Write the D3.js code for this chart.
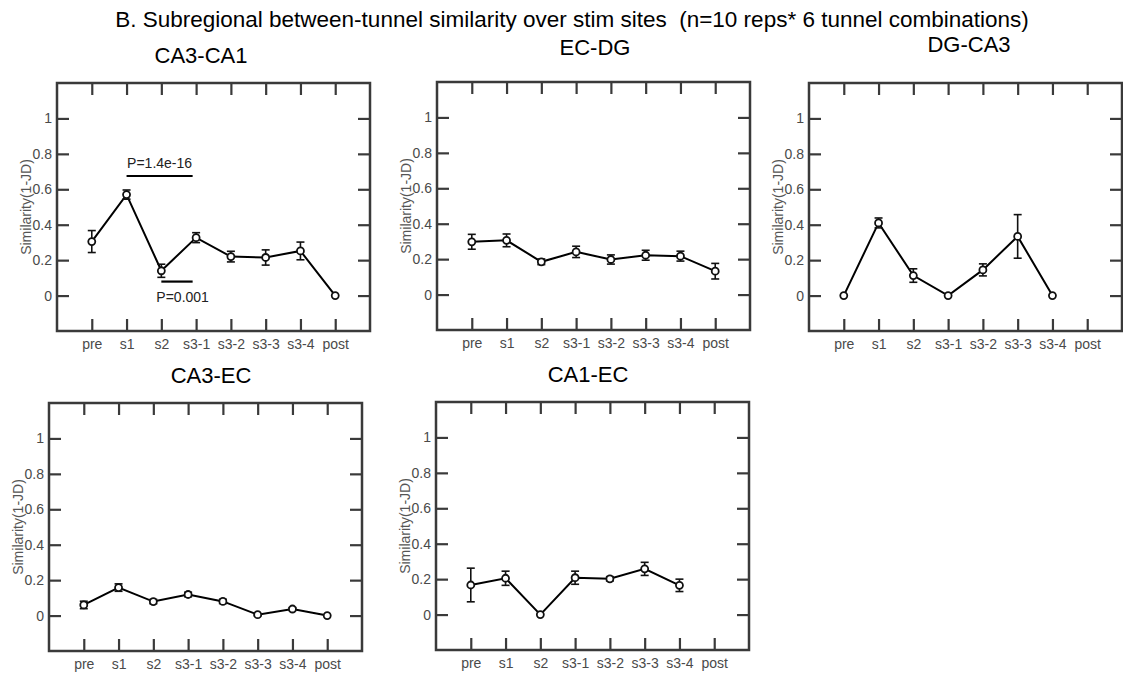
<!DOCTYPE html>
<html>
<head>
<meta charset="utf-8">
<script src="https://cdn.jsdelivr.net/npm/d3@7"></script>
<style>
  body { margin: 0; background: #fff; }
  text { font-family: "Liberation Sans", Arial, sans-serif; }
  .tick text { fill: #4a4a4a; font-size: 14px; }
  .tick line { stroke: #3a3a3a; stroke-width: 2.2px; }
</style>
</head>
<body>
<svg id="chart"></svg>
<script>
var categories = ["pre", "s1", "s2", "s3-1", "s3-2", "s3-3", "s3-4", "post"];
var yTicks = [0, 0.2, 0.4, 0.6, 0.8, 1];
var panelNames = ["CA3-CA1", "EC-DG", "DG-CA3", "CA3-EC", "CA1-EC"];

// mean and error bar half-length for each stim site (null = no data)
var ca3ca1Mean = [0.305, 0.57, 0.14, 0.327, 0.22, 0.215, 0.252, 0];
var ca3ca1Err  = [0.062, 0.026, 0.037, 0.028, 0.03, 0.043, 0.05, 0];
var ecdgMean   = [0.298, 0.306, 0.185, 0.241, 0.198, 0.222, 0.217, 0.132];
var ecdgErr    = [0.042, 0.036, 0.016, 0.032, 0.026, 0.028, 0.028, 0.044];
var dgca3Mean  = [0, 0.41, 0.113, 0, 0.145, 0.334, 0, null];
var dgca3Err   = [0, 0.028, 0.038, 0, 0.034, 0.123, 0, null];
var ca3ecMean  = [0.06, 0.158, 0.079, 0.119, 0.08, 0.005, 0.037, 0];
var ca3ecErr   = [0.021, 0.021, 0.012, 0.013, 0.012, 0.005, 0.008, 0];
var ca1ecMean  = [0.167, 0.205, 0, 0.208, 0.202, 0.258, 0.165, null];
var ca1ecErr   = [0.095, 0.04, 0, 0.037, 0.012, 0.037, 0.035, null];

// significance bars on the CA3-CA1 panel
var sigFrom  = [1, 2];
var sigTo    = [2.9, 2.9];
var sigY     = [0.675, 0.079];
var sigLabel = ["P=1.4e-16", "P=0.001"];

var means = [ca3ca1Mean, ecdgMean, dgca3Mean, ca3ecMean, ca1ecMean];
var errs  = [ca3ca1Err, ecdgErr, dgca3Err, ca3ecErr, ca1ecErr];

// panel placement (box left/top, title centre/baseline)
var layout = [
  {left: 57,  top: 83,  tx: 201, ty: 63},
  {left: 437, top: 82,  tx: 595, ty: 55},
  {left: 809, top: 83,  tx: 969, ty: 52},
  {left: 49,  top: 403, tx: 211, ty: 383},
  {left: 436, top: 402, tx: 588, ty: 382}
];

var W = 1123, H = 677;
var pw = 313, ph = 248;

var svg = d3.select("#chart").attr("width", W).attr("height", H);

svg.append("text")
  .attr("x", 572).attr("y", 27)
  .attr("text-anchor", "middle")
  .attr("xml:space", "preserve")
  .style("font-size", "22.5px")
  .text("B. Subregional between-tunnel similarity over stim sites  (n=10 reps* 6 tunnel combinations)");

var x = d3.scalePoint().domain(categories).range([0, pw]).padding(1);
var y = d3.scaleLinear().domain([-0.2, 1.2]).range([ph, 0]);

layout.forEach(function(L, p) {
  var g = svg.append("g").attr("transform", "translate(" + L.left + "," + L.top + ")");

  svg.append("text")
    .attr("x", L.tx).attr("y", L.ty)
    .attr("text-anchor", "middle")
    .style("font-size", "22px")
    .text(panelNames[p]);

  g.append("g").attr("transform", "translate(0," + ph + ")")
    .call(d3.axisBottom(x).tickSize(-12).tickPadding(8))
    .call(function(a) { a.select(".domain").remove(); });
  g.append("g")
    .call(d3.axisTop(x).tickSize(-12).tickFormat(""))
    .call(function(a) { a.select(".domain").remove(); });
  g.append("g")
    .call(d3.axisLeft(y).tickValues(yTicks).tickSize(-12).tickPadding(5).tickFormat(function(d) { return d; }))
    .call(function(a) { a.select(".domain").remove(); });
  g.append("g").attr("transform", "translate(" + pw + ",0)")
    .call(d3.axisRight(y).tickValues(yTicks).tickSize(-12).tickFormat(""))
    .call(function(a) { a.select(".domain").remove(); });

  g.append("rect")
    .attr("width", pw).attr("height", ph)
    .attr("fill", "none").attr("stroke", "#3a3a3a").attr("stroke-width", 2.5);

  g.append("text")
    .attr("transform", "translate(-31," + (ph / 2) + ") rotate(-90)")
    .attr("text-anchor", "middle")
    .attr("dy", "0.35em")
    .style("font-size", "14px")
    .style("fill", "#555")
    .text("Similarity(1-JD)");

  var pts = categories.map(function(c, i) { return {c: c, v: means[p][i], e: errs[p][i]}; });
  var valid = pts.filter(function(d) { return d.v != null; });

  var line = d3.line()
    .defined(function(d) { return d.v != null; })
    .x(function(d) { return x(d.c); })
    .y(function(d) { return y(d.v); });

  g.append("path").datum(pts)
    .attr("d", line)
    .attr("fill", "none").attr("stroke", "#000").attr("stroke-width", 2);

  var eb = g.selectAll(".eb").data(valid.filter(function(d) { return d.e > 0; })).enter().append("g")
    .attr("stroke", "#111").attr("stroke-width", 1.6);
  eb.append("line")
    .attr("x1", function(d) { return x(d.c); }).attr("x2", function(d) { return x(d.c); })
    .attr("y1", function(d) { return y(d.v - d.e); }).attr("y2", function(d) { return y(d.v + d.e); });
  eb.append("line")
    .attr("x1", function(d) { return x(d.c) - 4; }).attr("x2", function(d) { return x(d.c) + 4; })
    .attr("y1", function(d) { return y(d.v + d.e); }).attr("y2", function(d) { return y(d.v + d.e); });
  eb.append("line")
    .attr("x1", function(d) { return x(d.c) - 4; }).attr("x2", function(d) { return x(d.c) + 4; })
    .attr("y1", function(d) { return y(d.v - d.e); }).attr("y2", function(d) { return y(d.v - d.e); });

  g.selectAll(".dot").data(valid).enter().append("circle")
    .attr("cx", function(d) { return x(d.c); })
    .attr("cy", function(d) { return y(d.v); })
    .attr("r", 3.5)
    .attr("fill", "#fff").attr("stroke", "#111").attr("stroke-width", 1.8);

  if (p === 0) {
    var xi = d3.scaleLinear().domain([0, categories.length - 1]).range([x(categories[0]), x(categories[categories.length - 1])]);
    sigLabel.forEach(function(lab, k) {
      g.append("line")
        .attr("x1", xi(sigFrom[k])).attr("x2", xi(sigTo[k]))
        .attr("y1", y(sigY[k])).attr("y2", y(sigY[k]))
        .attr("stroke", "#000").attr("stroke-width", 2.2);
      var above = k === 0;
      g.append("text")
        .attr("x", above ? (xi(sigFrom[k]) + xi(sigTo[k])) / 2 : xi(sigTo[k]) - 10)
        .attr("y", above ? y(sigY[k]) - 8 : y(sigY[k]) + 20)
        .attr("text-anchor", "middle")
        .style("font-size", "14px")
        .style("fill", "#222")
        .text(lab);
    });
  }
});
</script>
</body>
</html>
